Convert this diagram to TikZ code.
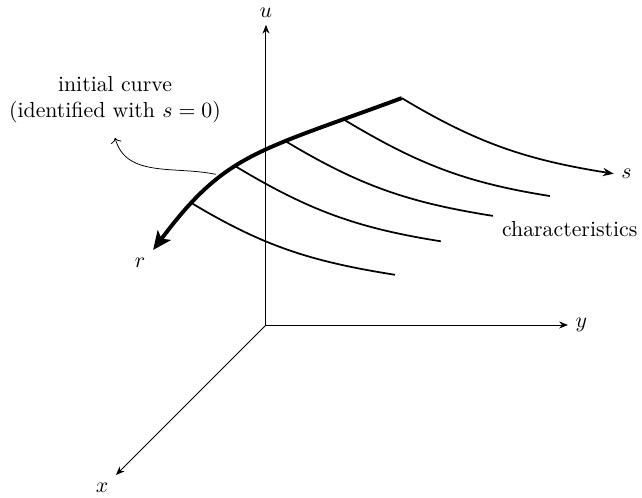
\documentclass[tikz,border=0pt]{standalone}
\usepackage{tikz}
\usetikzlibrary{arrows.meta}

\begin{document}
\begin{tikzpicture}[
  every node/.style={font=\normalsize},
  ax/.style={line width=0.45pt,-{Stealth[length=4pt,width=3.2pt]}},
  charline/.style={line width=0.8pt},
  initcurve/.style={line width=1.8pt,-{Stealth[length=8.5pt,width=7.5pt,inset=2pt]}},
  note/.style={line width=0.35pt,->}
]
\useasboundingbox (-4.29,-2.79) rectangle (6.065,5.242);

% axes
\coordinate (O) at (0,0);
\coordinate (utip) at (0,4.84);
\coordinate (ytip) at (4.87,0);
\coordinate (xtip) at (-2.42,-2.42);
\draw[ax] (O) -- (utip);
\draw[ax] (O) -- (ytip);
\draw[ax] (O) -- (xtip);
\node[above] (ulbl) at (utip) {$u$};
\node[right] (ylbl) at (ytip) {$y$};
\node[below left] (xlbl) at (xtip) {$x$};

% initial curve, with the foot points of the characteristics on it
\coordinate (c1) at (2.19,3.66);
\coordinate (rtip) at (-1.82,1.21);
\draw[initcurve] (c1) .. controls (-0.161,2.79) and (-0.653,2.768) .. (rtip)
  coordinate[pos=0.15] (c2)
  coordinate[pos=0.345] (c3)
  coordinate[pos=0.57] (c4)
  coordinate[pos=0.805] (c5);
\node[below left] (rlbl) at (rtip) {$r$};

% characteristics
\coordinate (e1) at (5.61,2.44);
\coordinate (e2) at (4.58,2.08);
\coordinate (e3) at (3.66,1.76);
\coordinate (e4) at (2.82,1.35);
\coordinate (e5) at (2.08,0.81);
\draw[charline,-{Stealth[length=5pt,width=3.8pt]}] (c1) to[out=-31,in=171] (e1);
\draw[charline] (c2) to[out=-31,in=171] (e2);
\draw[charline] (c3) to[out=-31,in=171] (e3);
\draw[charline] (c4) to[out=-31,in=171] (e4);
\draw[charline] (c5) to[out=-31,in=171] (e5);
\node[right] (slbl) at (e1) {$s$};
\node (charlbl) at (4.90,1.54) {characteristics};

% annotation
\node[align=center] (initlbl) at (-2.435,3.634) {initial curve\\(identified with $s=0$)};
\coordinate (ann) at (-0.81,2.43);
\coordinate (notetip) at (-2.435,3.02);
\draw[note] (ann) to[out=168,in=-75] (notetip);
\end{tikzpicture}
\end{document}
